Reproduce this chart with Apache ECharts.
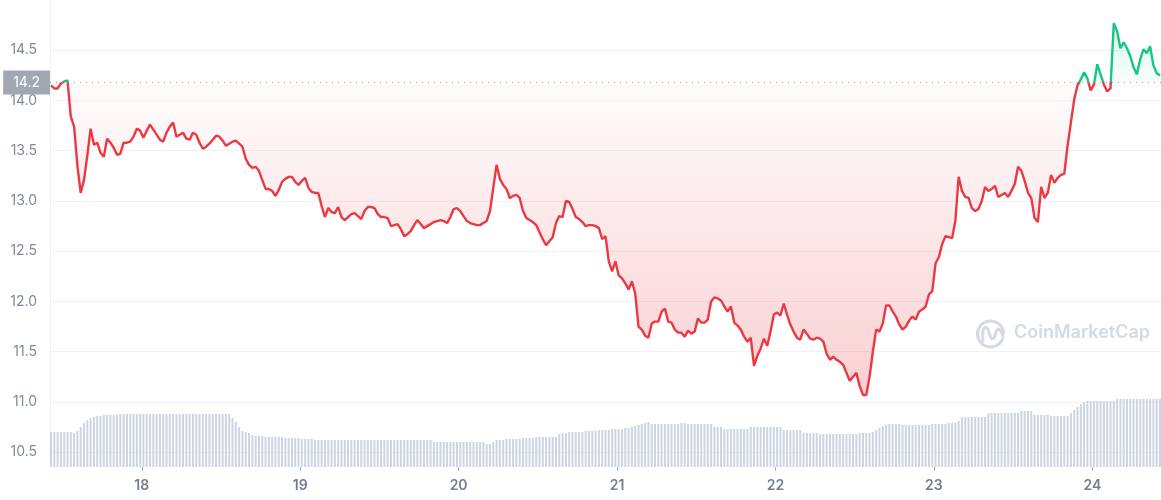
<!DOCTYPE html>
<html>
<head>
<meta charset="utf-8">
<script src="https://cdn.jsdelivr.net/npm/echarts@6/dist/echarts.min.js"></script>
<style>
html,body{margin:0;padding:0;background:#fff;}
#chart{width:1161px;height:500px;}
</style>
</head>
<body>
<div id="chart"></div>
<script>
// ---- data ----
const startTime = new Date(2022, 0, 17, 10, 15).getTime();
const stepMs = 30 * 60 * 1000; // 30-minute samples
const baseline = 14.18;
const baselineLabel = '14.2';
const yTickValues = [10.5, 11.0, 11.5, 12.0, 12.5, 13.0, 13.5, 14.0, 14.5];

const prices = [
14.15,14.12,14.12,14.17,14.19,14.20,13.84,13.74,13.35,13.08,
13.21,13.45,13.72,13.56,13.58,13.48,13.44,13.62,13.58,13.53,
13.46,13.47,13.58,13.58,13.59,13.64,13.72,13.70,13.63,13.70,
13.76,13.71,13.66,13.61,13.59,13.68,13.74,13.78,13.64,13.66,
13.68,13.62,13.61,13.68,13.66,13.58,13.52,13.54,13.57,13.61,
13.65,13.64,13.60,13.55,13.57,13.59,13.60,13.57,13.54,13.42,
13.36,13.33,13.34,13.30,13.21,13.12,13.12,13.10,13.05,13.11,
13.19,13.22,13.24,13.24,13.19,13.16,13.20,13.23,13.13,13.09,
13.08,13.08,12.95,12.84,12.93,12.89,12.88,12.94,12.84,12.81,
12.84,12.87,12.88,12.85,12.82,12.90,12.94,12.94,12.93,12.87,
12.84,12.84,12.83,12.75,12.76,12.77,12.72,12.65,12.67,12.70,
12.76,12.81,12.77,12.73,12.75,12.77,12.79,12.80,12.81,12.80,
12.78,12.84,12.92,12.93,12.90,12.85,12.80,12.78,12.77,12.76,
12.76,12.78,12.80,12.90,13.13,13.36,13.22,13.16,13.12,13.03,
13.05,13.06,13.03,12.90,12.83,12.81,12.79,12.76,12.69,12.62,
12.56,12.60,12.64,12.78,12.85,12.84,13.00,12.99,12.92,12.84,
12.82,12.79,12.75,12.76,12.76,12.75,12.73,12.62,12.65,12.40,
12.30,12.40,12.26,12.23,12.18,12.12,12.20,12.08,11.75,11.72,
11.66,11.64,11.78,11.80,11.80,11.90,11.93,11.80,11.79,11.72,
11.69,11.69,11.65,11.71,11.68,11.70,11.83,11.79,11.79,11.82,
12.00,12.04,12.03,12.01,11.95,11.90,11.95,11.79,11.76,11.72,
11.65,11.60,11.64,11.36,11.46,11.53,11.63,11.56,11.70,11.87,
11.89,11.86,11.98,11.87,11.77,11.70,11.64,11.62,11.72,11.68,
11.63,11.62,11.64,11.63,11.60,11.48,11.42,11.45,11.42,11.40,
11.37,11.29,11.21,11.25,11.29,11.16,11.07,11.07,11.25,11.50,
11.72,11.70,11.78,11.96,11.96,11.90,11.85,11.77,11.72,11.75,
11.81,11.85,11.82,11.90,11.92,11.95,12.07,12.10,12.38,12.44,
12.57,12.65,12.64,12.63,12.80,13.24,13.10,13.04,13.03,12.93,
12.90,12.92,13.00,13.14,13.10,13.12,13.15,13.04,13.06,13.08,
13.04,13.10,13.17,13.34,13.30,13.20,13.08,13.03,12.83,12.79,
13.14,13.03,13.08,13.26,13.18,13.23,13.26,13.27,13.55,13.78,
14.01,14.15,14.21,14.28,14.22,14.10,14.16,14.36,14.26,14.16,
14.09,14.12,14.77,14.69,14.52,14.58,14.52,14.44,14.33,14.26,
14.41,14.51,14.47,14.54,14.35,14.27,14.25
];

const volumes = [
35,35,35,35,35,35,35,34,36,40,
44,47,49,50,51,51,52,52,52,52,
52,53,53,53,53,53,53,53,53,53,
53,53,53,53,53,53,53,53,53,53,
53,53,53,53,53,53,53,53,53,53,
53,53,53,53,53,49,45,40,36,35,
34,32,31,31,31,30,30,30,30,30,
30,29,29,29,29,29,28,28,28,28,
27,27,27,27,27,27,27,27,27,27,
27,27,27,27,27,27,27,27,27,27,
27,27,27,27,27,27,27,27,27,27,
27,27,27,27,27,27,25,25,25,25,
25,25,25,25,25,25,25,25,25,25,
25,25,23,23,25,27,27,27,28,28,
28,28,28,29,29,29,29,30,30,30,
30,30,30,30,33,34,34,35,35,35,
35,35,36,36,36,36,37,37,37,37,
38,38,38,38,39,39,40,41,42,43,
44,45,43,43,43,43,43,43,43,43,
43,44,44,43,43,43,43,43,43,43,
43,40,40,40,38,38,38,38,38,38,
38,38,40,40,40,40,40,40,40,40,
40,40,37,37,37,37,37,37,34,34,
34,34,34,33,33,33,33,33,33,33,
33,33,33,33,33,34,34,34,34,35,
37,39,41,42,43,43,43,43,42,42,
42,42,42,42,42,42,42,43,43,43,
43,43,44,44,44,46,50,50,50,50,
50,50,50,50,54,54,54,54,54,54,
54,54,54,54,56,56,56,56,52,52,
52,52,52,51,51,51,51,51,51,54,
57,60,63,65,66,66,66,66,66,66,
66,66,66,68,68,68,68,68,68,68,
68,68,68,68,68,68,68
];

// ---- build ----
const priceData = prices.map((v, i) => [startTime + i * stepMs, v]);
const volData = volumes.map((v, i) => [startTime + i * stepMs, v]);
const maxP = Math.max(...prices), minP = Math.min(...prices);
const frac = (maxP - baseline) / (maxP - minP);

const chart = echarts.init(document.getElementById('chart'), null, {renderer: 'canvas'});
const RED = '#ea3943', GREEN = '#16c784';
const WM = '#d3d9e5';

const option = {
  animation: false,
  backgroundColor: '#fff',
  textStyle: {fontFamily: 'Inter, sans-serif'},
  grid: {left: 50, right: 0, top: 0, bottom: 33},
  xAxis: {
    type: 'time',
    min: startTime,
    max: startTime + 7 * 24 * 3600 * 1000,
    minInterval: 24 * 3600 * 1000,
    maxInterval: 24 * 3600 * 1000,
    axisLine: {show: false},
    axisTick: {show: true, length: 4, lineStyle: {color: '#a6b0c3'}},
    splitLine: {show: false},
    axisLabel: {
      margin: 12,
      color: '#737d90',
      fontSize: 14,
      fontWeight: 600,
      fontFamily: 'Inter, sans-serif',
      formatter: function (v) { return String(new Date(v).getDate()); }
    }
  },
  yAxis: [{
    type: 'value',
    min: 10.353,
    max: 15.0,
    axisLine: {show: true, lineStyle: {color: '#eff2f5', width: 1}},
    axisTick: {show: false, customValues: yTickValues},
    splitLine: {show: true, lineStyle: {color: '#eff2f5', width: 1}},
    axisLabel: {
      customValues: yTickValues,
      margin: 13,
      color: '#808a9d',
      fontSize: 14,
      fontFamily: 'Inter, sans-serif',
      formatter: function (v) { return Number(v).toFixed(1); }
    }
  }, {
    type: 'value',
    min: 0,
    max: 467,
    show: false,
    splitLine: {show: false}
  }],
  visualMap: {
    show: false,
    type: 'piecewise',
    seriesIndex: 1,
    dimension: 1,
    pieces: [
      {min: 0, max: baseline, color: RED},
      {min: baseline, max: 100, color: GREEN}
    ]
  },
  graphic: [
    {
      type: 'arc', z: 1, silent: true,
      shape: {cx: 990.5, cy: 334, r: 13, startAngle: 0.35, endAngle: Math.PI * 2 - 0.05},
      style: {fill: 'none', stroke: WM, lineWidth: 3, lineCap: 'round'}
    },
    {
      type: 'polyline', z: 1, silent: true,
      shape: {points: [[983, 341], [983, 331], [985, 327.5], [987.5, 328.5], [989.5, 334], [991.5, 338.5], [994, 338], [996, 332], [998, 329], [1000.5, 331], [1003, 336]], smooth: 0.3},
      style: {fill: 'none', stroke: WM, lineWidth: 3, lineCap: 'round', lineJoin: 'round'}
    },
    {
      type: 'text', left: 1014, top: 324, z: 1, silent: true,
      style: {text: 'CoinMarketCap', fill: WM, font: '600 18px Inter, sans-serif'}
    }
  ],
  series: [
    {
      type: 'bar',
      yAxisIndex: 1,
      data: volData,
      barWidth: 2,
      itemStyle: {color: '#cdd4e2'},
      z: 1,
      silent: true
    },
    {
      type: 'line',
      data: priceData,
      showSymbol: false,
      symbol: 'none',
      lineStyle: {width: 2.4},
      z: 3,
      areaStyle: {
        origin: baseline,
        color: new echarts.graphic.LinearGradient(0, 0, 0, 1, [
          {offset: 0, color: 'rgba(22,199,132,0.24)'},
          {offset: Math.max(0, frac - 0.0005), color: 'rgba(22,199,132,0.03)'},
          {offset: frac, color: 'rgba(234,57,67,0.02)'},
          {offset: 1, color: 'rgba(234,57,67,0.34)'}
        ])
      },
      markLine: {
        silent: true,
        symbol: 'none',
        lineStyle: {type: [1, 5], color: '#9aa1ad', width: 1},
        label: {
          show: true,
          position: 'start',
          distance: 0,
          formatter: baselineLabel,
          backgroundColor: '#a1a7b3',
          color: '#fff',
          fontSize: 14,
          fontFamily: 'Inter, sans-serif',
          padding: [5, 10, 5, 10]
        },
        data: [{yAxis: baseline}]
      }
    }
  ]
};
chart.setOption(option);
</script>
</body>
</html>
